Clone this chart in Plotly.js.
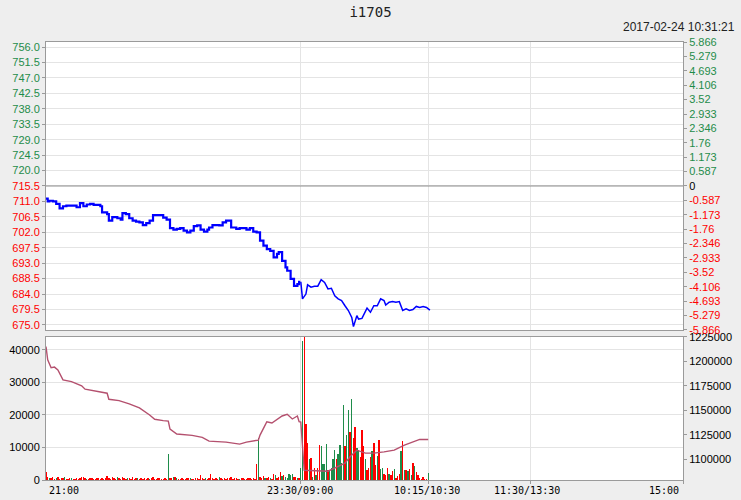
<!DOCTYPE html>
<html><head><meta charset="utf-8">
<script src="https://cdn.plot.ly/plotly-3.0.1.min.js"></script>
<style>html,body{margin:0;padding:0;background:#eeeeee;}#chart{width:741px;height:500px;}</style>
</head><body><div id="chart"></div>
<script>
// ---- data ----
const symbol = 'i1705';
const stamp = '2017-02-24 10:31:21';
const prevClose = 715.5;
const pctMax = 5.866;
// time axis: trading minutes from 21:00 (0) ... 23:30/09:00 (150) ... 10:15/10:30 (225) ... 11:30/13:30 (285) ... 15:00 (375)
const timeTickPos = [0, 150, 225, 285, 375];
const timeTickText = ['21:00', '23:30/09:00', '10:15/10:30', '11:30/13:30', '15:00'];
const priceTicks = [756.0,751.5,747.0,742.5,738.0,733.5,729.0,724.5,720.0,715.5,711.0,706.5,702.0,697.5,693.0,688.5,684.0,679.5,675.0];
const pctTicks = [5.866,5.279,4.693,4.106,3.52,2.933,2.346,1.76,1.173,0.587,0,-0.587,-1.173,-1.76,-2.346,-2.933,-3.52,-4.106,-4.693,-5.279,-5.866];
const volTicks = [0,10000,20000,30000,40000];
const oiTicks = [1100000,1125000,1150000,1175000,1200000,1225000];

// price line (night session, day session)
const nightT = [0,1,2,4,6,8,10,12,14,16,18,20,22,24,26,28,30,32,33,36,37,39,42,44,45,47,49,51,53,55,57,59,61,63,65,67,69,71,73,75,77,79,81,83,85,87,89,91,93,95,96,98,100,102,104,106,109,112,114,116,118,120,122,124,126,128,130,132,134,136,137,139,141,142,144,146,148,149];
const nightP = [711.8,711.0,711.2,711.0,710.3,709.0,709.6,709.8,709.8,709.8,709.3,710.5,709.6,710.1,710.3,710.0,710.0,709.6,707.8,707.3,705.4,706.4,706.1,705.7,707.6,707.3,706.1,705.4,705.1,704.9,704.1,704.7,705.4,707.0,707.0,707.0,706.3,705.7,703.2,702.8,703.0,703.2,702.5,702.0,702.5,703.8,704.0,702.8,702.2,702.8,703.4,704.1,704.1,704.0,704.9,705.4,703.4,703.0,703.2,703.2,702.8,703.2,702.2,702.0,699.6,698.1,697.1,696.6,694.7,695.7,696.2,693.7,691.8,690.8,688.4,686.4,686.9,687.9];
const dayT = [150,151,153,154,156,158,160,162,164,166,168,170,172,174,176,178,180,181,183,184,186,188,189,191,193,195,197,199,200,202,204,206,208,210,212,214,216,218,220,222,224,226];
const dayP = [687.6,682.6,684.0,686.7,686.0,686.3,686.3,688.2,687.4,685.5,685.7,683.5,682.6,682.1,680.6,679.2,677.2,674.5,677.7,676.7,676.9,678.7,679.9,678.7,680.6,680.6,682.6,682.1,680.8,681.6,681.8,681.6,681.8,679.2,679.7,679.2,679.5,680.4,680.1,680.4,680.1,679.3];

// volume per minute (index = minute) and direction (r = up, g = down)
const volume = [
2600,1000,700,500,800,400,600,900,300,500,
700,1000,400,300,600,500,300,400,600,300,
500,800,1000,600,400,300,500,700,400,300,
600,500,400,700,300,500,1300,600,400,1000,
500,300,800,600,400,1000,700,300,500,600,
400,800,300,500,700,400,600,300,500,400,
600,300,500,1000,400,300,600,500,300,400,
500,300,7900,600,500,800,900,600,400,300,
500,400,300,600,500,700,400,300,500,600,
400,1400,500,300,600,400,500,2000,600,400,
500,300,800,500,400,600,300,500,700,1000,
400,500,600,300,400,500,700,400,300,500,
600,400,500,300,5000,12800,1000,600,1200,500,
700,800,600,400,2000,1400,600,800,2600,1200,
1500,900,600,1800,1400,1700,900,800,500,600,
3800,42900,46000,17200,11250,6600,6900,1000,3800,1500,
3800,10700,10400,4850,5000,11000,3000,2700,3600,6400,
9200,6600,8150,10700,5300,23100,10400,13800,21500,14800,
24900,13000,16400,9900,9200,7100,15400,10400,6600,3000,
3600,7200,9000,11400,4600,7500,12300,3300,3600,2000,
1500,3600,2000,1500,2800,3300,500,1300,2000,8900,
12000,3000,3000,2900,3400,1500,5300,4200,2600,1500,
700,300,800,400,200,2300];
const direction = (
'rrgrrrgrrr'+'rgrrrgrrrr'+'rrrrgrrrrr'+'rrrrrrrrrr'+'rrgrrrrrgr'+
'rrrrgrrrrr'+'rgrrrrrrrr'+'rrgrrgrgrr'+'rrrrrgrrrr'+'rrrrgrrrrr'+
'rrgrrrrrrr'+'rrrrgrrrrr'+'rrrrrgrrrg'+'rrgrrgrrrg'+'rgggggrrgr'+
'ggrrrgrgrg'+'rrggggrggg'+'grggggrggr'+'grrggrrrgr'+'rrgrrgrggr'+
'rrgrrgrrrg'+'rgrgrgrgrr'+'rrrrrg').split('');

// open interest line
const oiT = [0,1,3,5,7,8,10,15,18,21,23,28,32,36,37,41,43,49,55,61,64,69,72,73,77,86,92,96,106,114,118,125,126,129,130,133,136,139,142,145,148,149,150,151,152,166,176,179,183,188,193,199,205,211,217,220,225];
const oiV = [1215300,1201700,1193500,1194200,1191400,1188300,1181100,1179400,1177000,1175000,1171600,1170100,1169100,1167500,1161300,1160600,1159900,1156500,1152400,1145200,1140800,1139400,1139000,1130800,1125700,1124300,1122300,1118500,1117500,1115400,1117500,1119500,1124600,1134900,1138300,1137000,1140800,1144200,1145900,1141100,1144200,1138300,1138000,1112600,1088700,1087700,1095900,1102400,1109200,1106200,1106200,1107500,1109200,1114400,1118500,1120200,1120200];

// ---- colours ----
const GREEN = '#1e8c4a', RED = '#ff0000';
const span = (c, t) => '<span style="color:' + c + '">' + t + '</span>';

const priceText = priceTicks.map(v => span(v > prevClose ? GREEN : RED, v.toFixed(1)));
const pctText = pctTicks.map(v => span(v > 0 ? GREEN : (v < 0 ? RED : '#000000'), String(v)));

const minutes = volume.map((v, i) => i);
const upX = [], upY = [], dnX = [], dnY = [];
minutes.forEach((m, i) => {
  if (direction[i] === 'r') { upX.push(m); upY.push(volume[i]); }
  else { dnX.push(m); dnY.push(volume[i]); }
});
// percent change of the day-session prices, used to bind the right-hand % axis
const dayPct = dayP.map(p => (p / prevClose - 1) * 100);

const traces = [
  {x: nightT, y: nightP, type: 'scatter', mode: 'lines', xaxis: 'x2', yaxis: 'y',
   line: {color: '#0000ff', width: 2.2, shape: 'hv'}, hoverinfo: 'none'},
  {x: dayT, y: dayP, type: 'scatter', mode: 'lines', xaxis: 'x2', yaxis: 'y',
   line: {color: '#0000ff', width: 1.5}, hoverinfo: 'none'},
  {x: dayT, y: dayPct, type: 'scatter', mode: 'lines', xaxis: 'x2', yaxis: 'y2',
   opacity: 0, line: {color: '#0000ff', width: 1}, hoverinfo: 'none'},
  {x: dnX, y: dnY, type: 'bar', xaxis: 'x', yaxis: 'y3', width: 0.8,
   marker: {color: GREEN, line: {width: 0}}, hoverinfo: 'none'},
  {x: upX, y: upY, type: 'bar', xaxis: 'x', yaxis: 'y3', width: 0.8,
   marker: {color: RED, line: {width: 0}}, hoverinfo: 'none'},
  {x: oiT, y: oiV, type: 'scatter', mode: 'lines', xaxis: 'x', yaxis: 'y4',
   line: {color: '#b4506e', width: 1.4}, hoverinfo: 'none'}
];

const axisFont = {family: 'Liberation Sans, Arial, sans-serif', size: 11, color: '#000'};
const LINE = '#9a9a9a', GRID = '#e4e4e4';
const gridTicks = [150, 225, 285, 375];

const xLabels = timeTickPos.map((p, i) => ({
  xref: 'x', yref: 'paper', x: p, y: -0.0235, yanchor: 'middle',
  xanchor: i === 0 ? 'left' : (i === timeTickPos.length - 1 ? 'right' : 'center'),
  xshift: i === 0 ? 1 : (i === timeTickPos.length - 1 ? -2 : (i === 3 ? -3 : -1)),
  text: timeTickText[i], showarrow: false,
  font: {family: 'DejaVu Sans Mono, Liberation Mono, monospace', size: 10, color: '#000'}
}));

const layout = {
  width: 741, height: 500,
  paper_bgcolor: '#eeeeee', plot_bgcolor: '#ffffff',
  margin: {l: 46, r: 58, t: 42, b: 20},
  showlegend: false, barmode: 'overlay', bargap: 0,
  title: {text: symbol, x: 0.5, xanchor: 'center', y: 0.976, yanchor: 'middle',
          font: {family: 'DejaVu Sans Mono, monospace', size: 14, color: '#222'}},
  xaxis: {domain: [0, 1], anchor: 'y3', range: [0, 375], tickvals: gridTicks, showticklabels: false,
          ticks: 'outside', ticklen: 3, tickcolor: LINE, showgrid: true, gridcolor: GRID,
          showline: true, linecolor: LINE, mirror: true, zeroline: false, fixedrange: true},
  xaxis2: {domain: [0, 1], anchor: 'y', matches: 'x', range: [0, 375], tickvals: gridTicks, showticklabels: false,
          ticks: '', showgrid: true, gridcolor: GRID,
          showline: true, linecolor: LINE, mirror: true, zeroline: false},
  yaxis: {domain: [0.3425, 1], anchor: 'x2', range: [prevClose * (1 - pctMax / 100), prevClose * (1 + pctMax / 100)],
          tickvals: priceTicks, ticktext: priceText, tickfont: axisFont,
          ticks: 'outside', ticklen: 3, tickcolor: LINE, showgrid: true, gridcolor: GRID,
          showline: true, linecolor: LINE, zeroline: false},
  yaxis2: {overlaying: 'y', anchor: 'x2', side: 'right', range: [-pctMax, pctMax],
          tickvals: pctTicks, ticktext: pctText, tickfont: axisFont,
          ticks: 'outside', ticklen: 3, tickcolor: LINE, showgrid: false,
          showline: true, linecolor: LINE, zeroline: false},
  yaxis3: {domain: [0, 0.3265], anchor: 'x', range: [0, 44000],
          tickvals: volTicks, ticktext: volTicks.map(String), tickfont: axisFont,
          ticks: 'outside', ticklen: 3, tickcolor: LINE, showgrid: true, gridcolor: GRID,
          showline: true, linecolor: LINE, zeroline: false},
  yaxis4: {overlaying: 'y3', anchor: 'x', side: 'right', range: [1078700, 1225000],
          tickvals: oiTicks, ticktext: oiTicks.map(String), tickfont: axisFont,
          ticks: 'outside', ticklen: 3, tickcolor: LINE, showgrid: false,
          showline: true, linecolor: LINE, zeroline: false},
  shapes: [{type: 'line', xref: 'x2', yref: 'y', x0: 0, x1: 375, y0: prevClose, y1: prevClose,
            line: {color: '#8c8c8c', width: 1}}],
  annotations: [
    {xref: 'paper', yref: 'paper', x: 1.0848, y: 1.0342, xanchor: 'right', yanchor: 'middle',
     text: stamp, showarrow: false,
     font: {family: 'Liberation Sans, Arial, sans-serif', size: 12, color: '#222'}}
  ].concat(xLabels)
};

Plotly.newPlot('chart', traces, layout, {staticPlot: true, displayModeBar: false});
</script>
</body></html>
